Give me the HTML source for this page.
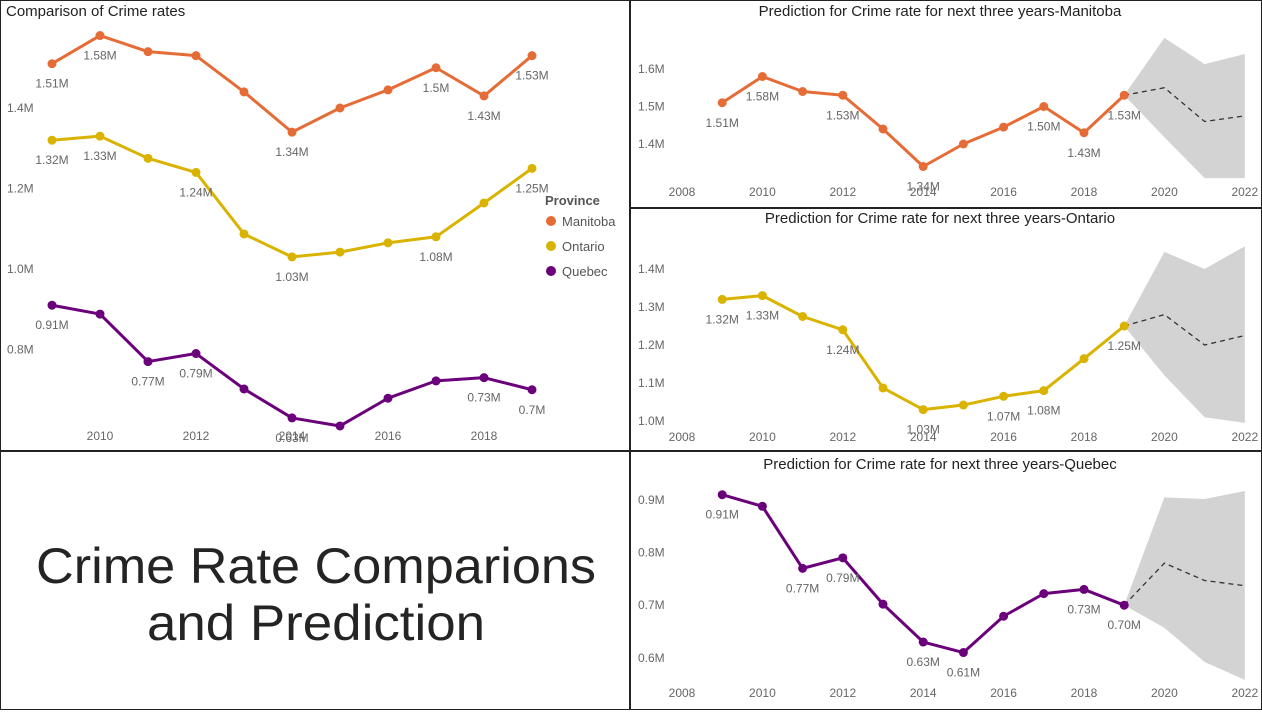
<!DOCTYPE html>
<html><head><meta charset="utf-8"><style>
html,body{margin:0;padding:0;background:#fff;}
svg{display:block;font-family:"Liberation Sans",sans-serif;}
</style></head><body>
<svg id="s" width="1262" height="720" viewBox="0 0 1262 720" xmlns="http://www.w3.org/2000/svg">
<rect x="0.5" y="0.5" width="1261" height="709" fill="#fff" stroke="#222"/>
<line x1="630" y1="0" x2="630" y2="710" stroke="#222" stroke-width="2"/>
<line x1="0" y1="451" x2="630" y2="451" stroke="#222" stroke-width="2"/>
<line x1="630" y1="208" x2="1262" y2="208" stroke="#222" stroke-width="2"/>
<line x1="630" y1="451" x2="1262" y2="451" stroke="#222" stroke-width="2"/>
<text x="6" y="16" font-size="15" fill="#222">Comparison of Crime rates</text>
<text x="316" y="583" font-size="50" fill="#252423" text-anchor="middle" textLength="560" lengthAdjust="spacingAndGlyphs">Crime Rate Comparions</text>
<text x="316" y="640" font-size="50" fill="#252423" text-anchor="middle" textLength="338" lengthAdjust="spacingAndGlyphs">and Prediction</text>
<g>
<text x="545" y="205" font-size="13" font-weight="bold" fill="#555">Province</text>
<circle cx="551" cy="221" r="5" fill="#E66C37"/>
<text x="562" y="226" font-size="13" fill="#555">Manitoba</text>
<circle cx="551" cy="246" r="5" fill="#D9B300"/>
<text x="562" y="251" font-size="13" fill="#555">Ontario</text>
<circle cx="551" cy="271" r="5" fill="#6B007B"/>
<text x="562" y="276" font-size="13" fill="#555">Quebec</text>
</g>
</svg>
<script>
const years = [2009,2010,2011,2012,2013,2014,2015,2016,2017,2018,2019];
const manitoba = [1.51,1.58,1.54,1.53,1.44,1.34,1.40,1.445,1.50,1.43,1.53];
const ontario = [1.32,1.33,1.275,1.24,1.087,1.03,1.042,1.065,1.08,1.164,1.25];
const quebec = [0.91,0.888,0.77,0.79,0.702,0.63,0.61,0.679,0.722,0.73,0.70];
const manitobaLabelsLeft = ["1.51M","1.58M",null,null,null,"1.34M",null,null,"1.5M","1.43M","1.53M"];
const ontarioLabelsLeft = ["1.32M","1.33M",null,"1.24M",null,"1.03M",null,null,"1.08M",null,"1.25M"];
const quebecLabelsLeft = ["0.91M",null,"0.77M","0.79M",null,"0.63M",null,null,null,"0.73M","0.7M"];
const manitobaLabelsRight = ["1.51M","1.58M",null,"1.53M",null,"1.34M",null,null,"1.50M","1.43M","1.53M"];
const ontarioLabelsRight = ["1.32M","1.33M",null,"1.24M",null,"1.03M",null,"1.07M","1.08M",null,"1.25M"];
const quebecLabelsRight = ["0.91M",null,"0.77M","0.79M",null,"0.63M","0.61M",null,null,"0.73M","0.70M"];
const forecastYears = [2019,2020,2021,2022];
const manitobaForecast = [1.53,1.55,1.46,1.475];
const manitobaUpper = [1.53,1.683,1.613,1.64];
const manitobaLower = [1.53,1.418,1.309,1.309];
const ontarioForecast = [1.25,1.28,1.20,1.225];
const ontarioUpper = [1.25,1.445,1.40,1.46];
const ontarioLower = [1.25,1.12,1.01,0.995];
const quebecForecast = [0.70,0.78,0.747,0.737];
const quebecUpper = [0.70,0.905,0.902,0.917];
const quebecLower = [0.70,0.657,0.592,0.558];
const leftYTicks = [1.4,1.2,1.0,0.8];
const leftYTickLabels = ["1.4M","1.2M","1.0M","0.8M"];
const leftXTicks = [2010,2012,2014,2016,2018];
const rightXTicks = [2008,2010,2012,2014,2016,2018,2020,2022];
const manitobaYTicks = [1.6,1.5,1.4];
const manitobaYTickLabels = ["1.6M","1.5M","1.4M"];
const ontarioYTicks = [1.4,1.3,1.2,1.1,1.0];
const ontarioYTickLabels = ["1.4M","1.3M","1.2M","1.1M","1.0M"];
const quebecYTicks = [0.9,0.8,0.7,0.6];
const quebecYTickLabels = ["0.9M","0.8M","0.7M","0.6M"];

const svg = document.getElementById('s');
const NS = 'http://www.w3.org/2000/svg';
function mk(tag, attrs){const e=document.createElementNS(NS,tag);for(const k in attrs)e.setAttribute(k,attrs[k]);svg.appendChild(e);return e;}

function drawSeries(name, xs, vals, labels, X, Y, color){
  const pts = xs.map((x,i)=>X(x)+','+Y(vals[i])).join(' ');
  const pl = mk('polyline',{points:pts,fill:'none',stroke:color,'stroke-width':3,'stroke-linejoin':'round'});
  
  
  xs.forEach((x,i)=>{
    const c = mk('circle',{cx:X(x),cy:Y(vals[i]),r:4.5,fill:color});
    
    
    if(labels[i]){
      const t = mk('text',{x:X(x),y:Y(vals[i])+24,'font-size':12,fill:'#666','text-anchor':'middle'});
      t.textContent = labels[i];
      
      
    }
  });
}
function yAxis(name, ticks, tlabels, Y, x){
  ticks.forEach((v,i)=>{
    const t = mk('text',{x:x,y:Y(v)+4,'font-size':12,fill:'#666'});
    t.textContent = tlabels[i];
    
    
  });
}
function xAxis(name, ticks, X, y){
  ticks.forEach(v=>{
    const t = mk('text',{x:X(v),y:y,'font-size':12,fill:'#666','text-anchor':'middle'});
    t.textContent = v;
    
    
  });
}

// Left comparison chart
const LX = yr => 52 + (yr-2009)*48;
const LY = v => 108 + (1.4-v)*402.5;
yAxis('comparison', leftYTicks, leftYTickLabels, LY, 7);
xAxis('comparison', leftXTicks, LX, 440);
drawSeries('manitoba', years, manitoba, manitobaLabelsLeft, LX, LY, '#E66C37');
drawSeries('ontario', years, ontario, ontarioLabelsLeft, LX, LY, '#D9B300');
drawSeries('quebec', years, quebec, quebecLabelsLeft, LX, LY, '#6B007B');

// Right forecast charts
const RX = yr => 682 + (yr-2008)*40.2;
function forecast(name, title, titleY, vals, labels, color, fc, up, lo, yt, ytl, Y, xLabelY){
  const tt = mk('text',{x:940,y:titleY,'font-size':15,fill:'#222','text-anchor':'middle'});
  tt.textContent = title;
  
  
  const poly = forecastYears.map((x,i)=>RX(x)+','+Y(up[i])).concat(forecastYears.slice().reverse().map((x,j)=>RX(x)+','+Y(lo[forecastYears.length-1-j]))).join(' ');
  const band = mk('polygon',{points:poly,fill:'#d3d3d3'});
  
  
  const fl = mk('polyline',{points:forecastYears.map((x,i)=>RX(x)+','+Y(fc[i])).join(' '),fill:'none',stroke:'#333','stroke-width':1.3,'stroke-dasharray':'5,4'});
  
  
  yAxis(name+'-forecast', yt, ytl, Y, 638);
  xAxis(name+'-forecast', rightXTicks, RX, xLabelY);
  drawSeries(name+'-forecast', years, vals, labels, RX, Y, color);
}
forecast('manitoba','Prediction for Crime rate for next three years-Manitoba',16,manitoba,manitobaLabelsRight,'#E66C37',manitobaForecast,manitobaUpper,manitobaLower,manitobaYTicks,manitobaYTickLabels,v=>69+(1.6-v)*375,196);
forecast('ontario','Prediction for Crime rate for next three years-Ontario',223,ontario,ontarioLabelsRight,'#D9B300',ontarioForecast,ontarioUpper,ontarioLower,ontarioYTicks,ontarioYTickLabels,v=>269+(1.4-v)*380,441);
forecast('quebec','Prediction for Crime rate for next three years-Quebec',469,quebec,quebecLabelsRight,'#6B007B',quebecForecast,quebecUpper,quebecLower,quebecYTicks,quebecYTickLabels,v=>500+(0.9-v)*526,697);
</script>
</body></html>
